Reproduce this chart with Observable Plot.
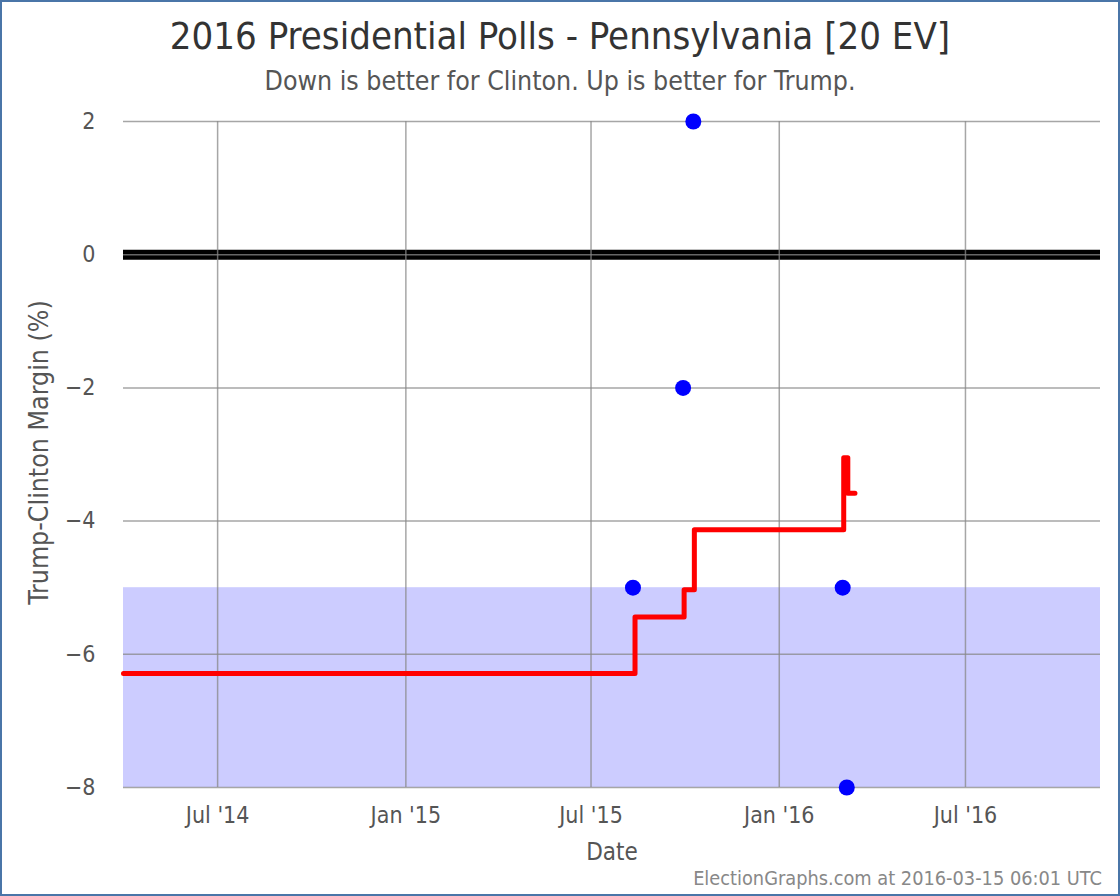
<!DOCTYPE html>
<html>
<head>
<meta charset="utf-8">
<script src="https://cdn.jsdelivr.net/npm/d3@7"></script>
<script src="https://cdn.jsdelivr.net/npm/@observablehq/plot@0.6"></script>
<style>
  html, body { margin: 0; padding: 0; background: #fff; }
  #page {
    position: relative; width: 1120px; height: 896px; box-sizing: border-box;
    border: 2px solid #4a75a8; overflow: hidden; background: #fff;
    font-family: "DejaVu Sans Condensed", "DejaVu Sans", sans-serif; font-stretch: condensed;
  }
  #title { position: absolute; left: 0; width: 1116px; top: 14px; text-align: center; font-size: 38px; color: #333; line-height: 1.1; }
  #subtitle { position: absolute; left: 0; width: 1116px; top: 64px; text-align: center; font-size: 26.5px; color: #555; line-height: 1.1; }
  #footer { position: absolute; right: 16px; top: 866px; font-size: 19.8px; color: #888; line-height: 1.1; }
  #chart { position: absolute; left: 0; top: 98px; }
  #chart svg { font-family: "DejaVu Sans Condensed", "DejaVu Sans", sans-serif; font-stretch: condensed; }
</style>
</head>
<body>
<div id="page">
  <div id="title">2016 Presidential Polls - Pennsylvania [20 EV]</div>
  <div id="subtitle">Down is better for Clinton. Up is better for Trump.</div>
  <div id="chart"></div>
  <div id="footer">ElectionGraphs.com at 2016-03-15 06:01 UTC</div>
</div>
<script>
// Poll points
const pollDates = ["2015-08-11", "2015-09-29", "2015-10-09", "2016-03-03", "2016-03-07"];
const pollMargins = [-5, -2, 2, -5, -8];

// Running average (step line)
const avgDates = ["2014-03-31", "2015-08-13", "2015-09-30", "2015-10-10", "2016-03-04", "2016-03-08", "2016-03-15"];
const avgMargins = [-6.29, -5.44, -5.03, -4.13, -3.05, -3.58, -3.58];

// Shaded band (Strong Clinton zone)
const bandTop = -5;
const bandBottom = -8;

// Axis domains and ticks
const xDomain = ["2014-03-31", "2016-11-10"];
const yDomain = [-8, 2];
const xTickDates = ["2014-07-01", "2015-01-01", "2015-07-01", "2016-01-01", "2016-07-01"];
const xTickLabels = ["Jul '14", "Jan '15", "Jul '15", "Jan '16", "Jul '16"];
const yTicks = [-8, -6, -4, -2, 0, 2];

const parse = d3.utcParse("%Y-%m-%d");
const polls = pollDates.map((d, i) => ({date: parse(d), margin: pollMargins[i]}));
const avg = avgDates.map((d, i) => ({date: parse(d), margin: avgMargins[i]}));
const xd = xDomain.map(parse);
const xt = xTickDates.map(parse);
const labelOf = new Map(xt.map((d, i) => [+d, xTickLabels[i]]));
const band = [{x1: xd[0], x2: xd[1], y1: bandBottom, y2: bandTop}];

const chart = Plot.plot({
  width: 1116,
  height: 770,
  marginLeft: 121,
  marginRight: 18,
  marginTop: 21,
  marginBottom: 83,
  x: {type: "utc", domain: xd},
  y: {domain: yDomain},
  style: {fontSize: "23px", color: "#555", background: "transparent"},
  marks: [
    Plot.rect(band, {x1: "x1", x2: "x2", y1: "y1", y2: "y2", fill: "#ccccff"}),
    Plot.ruleY([0], {stroke: "#000", strokeWidth: 10}),
    Plot.gridX(xt, {stroke: "#888", strokeOpacity: 0.75, strokeWidth: 1.5}),
    Plot.gridY(yTicks, {stroke: "#888", strokeOpacity: 0.75, strokeWidth: 1.5}),
    Plot.axisX(xt, {tickSize: 0, tickPadding: 19, tickFormat: d => labelOf.get(+d), fontSize: 23, color: "#555",
      label: null}),
    Plot.axisY(yTicks, {tickSize: 0, tickPadding: 28, tickFormat: d => String(d).replace("-", "\u2212"), fontSize: 23, color: "#555",
      label: null}),
    Plot.text(["Date"], {frameAnchor: "bottom", dy: 72, fontSize: 24, fill: "#555"}),
    Plot.text(["Trump-Clinton Margin (%)"], {frameAnchor: "left", textAnchor: "middle", dx: -84, dy: -2, rotate: -90, fontSize: 26.5, fill: "#555"}),
    Plot.line(avg, {x: "date", y: "margin", curve: "step-after", stroke: "#ff0000", strokeWidth: 5, strokeLinejoin: "round", strokeLinecap: "round"}),
    Plot.dot(polls, {x: "date", y: "margin", r: 8, fill: "#0000ff", stroke: "none"})
  ]
});
document.getElementById("chart").appendChild(chart);
</script>
</body>
</html>
